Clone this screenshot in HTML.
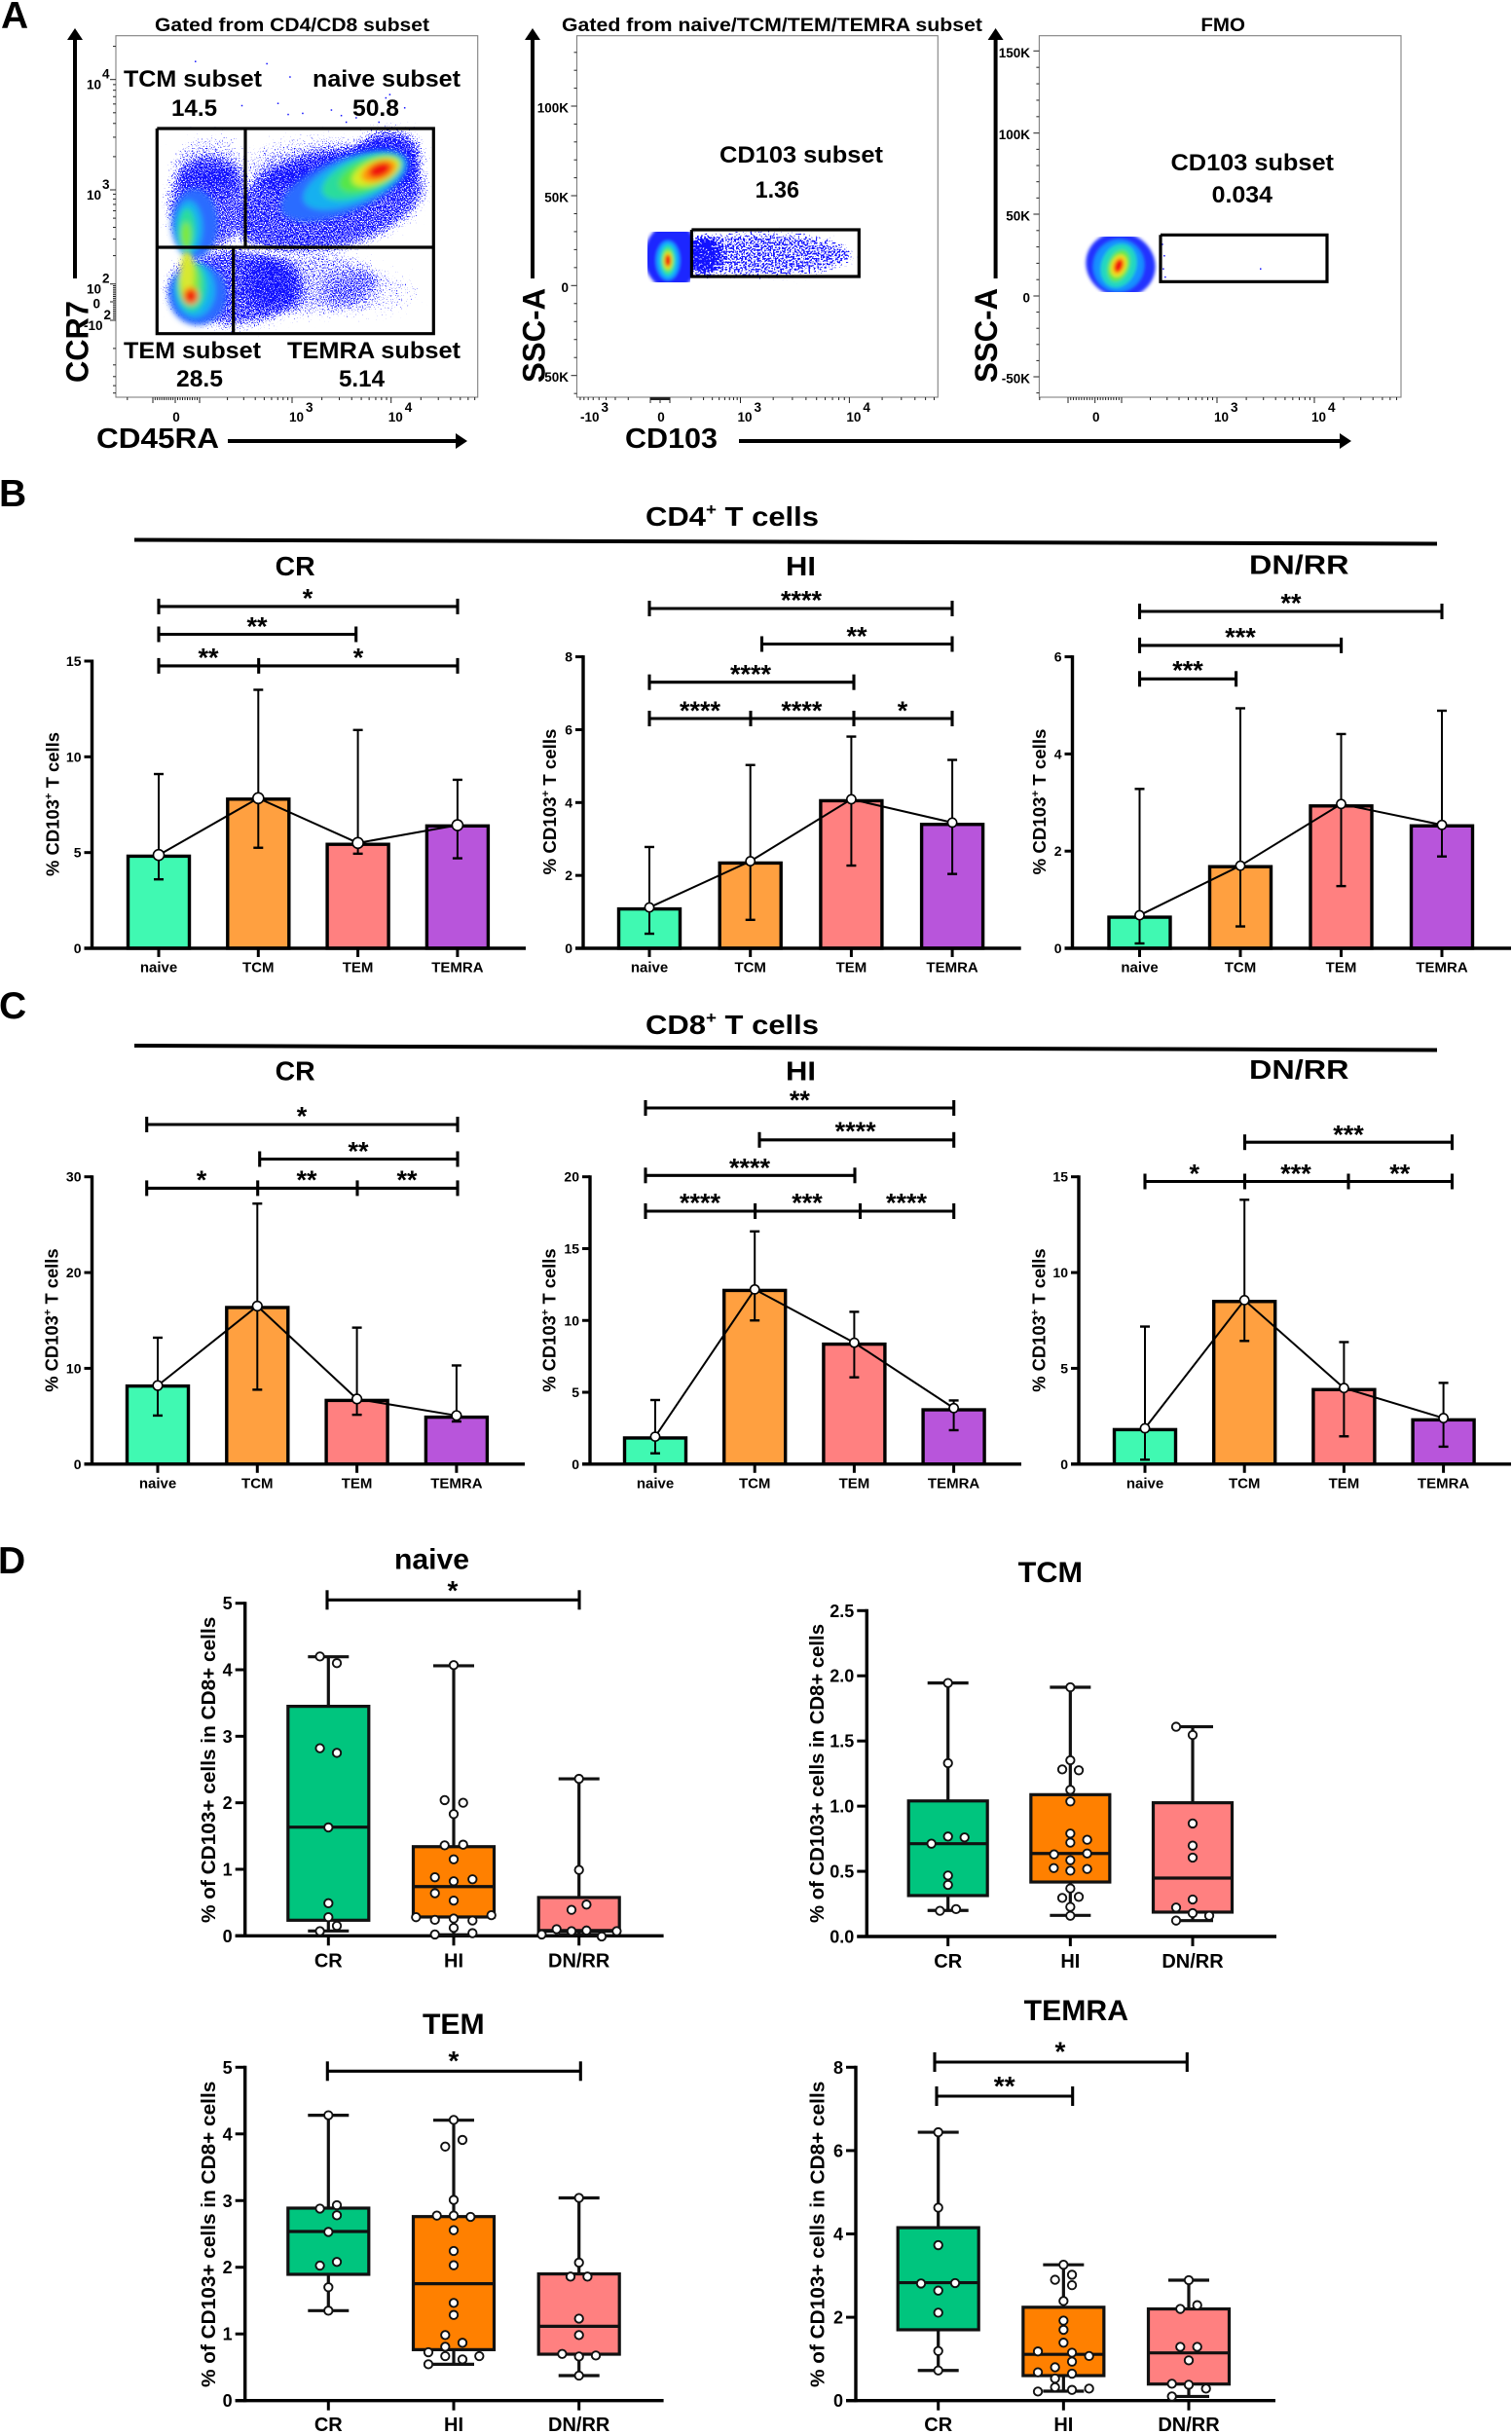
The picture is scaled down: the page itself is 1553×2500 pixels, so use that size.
<!DOCTYPE html>
<html lang="en">
<head>
<meta charset="utf-8">
<title>CD103 expression in T cell subsets</title>
<style>
html,body{margin:0;padding:0;background:#fff;}
svg{display:block;}
text{font-family:"Liberation Sans",Arial,sans-serif;font-weight:bold;fill:#000;}
</style>
</head>
<body>
<svg id="figure" xmlns="http://www.w3.org/2000/svg" width="1553" height="2500" viewBox="0 0 1553 2500">
<defs>
  <filter id="stipple" x="-30%" y="-30%" width="160%" height="160%" color-interpolation-filters="sRGB">
    <feGaussianBlur in="SourceAlpha" stdDeviation="7" result="b"/>
    <feTurbulence type="fractalNoise" baseFrequency="0.8" numOctaves="1" seed="7" result="n"/>
    <feColorMatrix in="n" type="matrix" values="0 0 0 0 0  0 0 0 0 0  0 0 0 0 0  1.8 0 0 0 -0.4" result="na"/>
    <feComposite in="b" in2="na" operator="arithmetic" k1="0" k2="1" k3="1" k4="-1" result="sum"/>
    <feComponentTransfer in="sum" result="mask"><feFuncA type="linear" slope="8"/></feComponentTransfer>
    <feFlood flood-color="#1212ff" result="c"/>
    <feComposite in="c" in2="mask" operator="in"/>
  </filter>
  <filter id="stippleFine" x="-30%" y="-30%" width="160%" height="160%" color-interpolation-filters="sRGB">
    <feGaussianBlur in="SourceAlpha" stdDeviation="4" result="b"/>
    <feTurbulence type="fractalNoise" baseFrequency="0.55" numOctaves="1" seed="11" result="n"/>
    <feColorMatrix in="n" type="matrix" values="0 0 0 0 0  0 0 0 0 0  0 0 0 0 0  1.8 0 0 0 -0.4" result="na"/>
    <feComposite in="b" in2="na" operator="arithmetic" k1="0" k2="1" k3="1" k4="-1" result="sum"/>
    <feComponentTransfer in="sum" result="mask"><feFuncA type="linear" slope="8"/></feComponentTransfer>
    <feFlood flood-color="#1212ff" result="c"/>
    <feComposite in="c" in2="mask" operator="in"/>
  </filter>
  <filter id="cloudBlur" x="-30%" y="-30%" width="160%" height="160%"><feGaussianBlur stdDeviation="3"/></filter>
  <filter id="cloudBlurSmall" x="-30%" y="-30%" width="160%" height="160%"><feGaussianBlur stdDeviation="1.6"/></filter>
  <clipPath id="clipSubset"><rect x="665" y="238" width="44" height="52"/></clipPath>
  <clipPath id="clipFmo"><rect x="1100" y="243" width="92" height="57"/></clipPath>
  <clipPath id="clipGated"><rect x="120" y="38" width="370" height="304"/></clipPath>
</defs>
<rect x="0" y="0" width="1553" height="2500" fill="#fff"/>

<text x="1" y="29" font-size="39">A</text>
<text x="-1" y="520" font-size="39">B</text>
<text x="-1" y="1046" font-size="39">C</text>
<text x="-2" y="1616" font-size="39">D</text>

<g id="flow-layer"></g>

<g>
  <text x="159" y="32" font-size="19" textLength="282" lengthAdjust="spacingAndGlyphs">Gated from CD4/CD8 subset</text>
  <text x="127" y="89" font-size="24.5" textLength="142" lengthAdjust="spacingAndGlyphs">TCM subset</text>
  <text x="176" y="119" font-size="24.5" textLength="47" lengthAdjust="spacingAndGlyphs">14.5</text>
  <text x="321" y="89" font-size="24.5" textLength="152" lengthAdjust="spacingAndGlyphs">naive subset</text>
  <text x="362" y="119" font-size="24.5" textLength="48" lengthAdjust="spacingAndGlyphs">50.8</text>
  <text x="127" y="368" font-size="24.5" textLength="141" lengthAdjust="spacingAndGlyphs">TEM subset</text>
  <text x="181" y="397" font-size="24.5" textLength="48" lengthAdjust="spacingAndGlyphs">28.5</text>
  <text x="295" y="368" font-size="24.5" textLength="178" lengthAdjust="spacingAndGlyphs">TEMRA subset</text>
  <text x="348" y="397" font-size="24.5" textLength="47" lengthAdjust="spacingAndGlyphs">5.14</text>
  <text x="577" y="32" font-size="19" textLength="432" lengthAdjust="spacingAndGlyphs">Gated from naive/TCM/TEM/TEMRA subset</text>
  <text x="739" y="167" font-size="24.5" textLength="168" lengthAdjust="spacingAndGlyphs">CD103 subset</text>
  <text x="775.6" y="203" font-size="24.5" textLength="45.4" lengthAdjust="spacingAndGlyphs">1.36</text>
  <text x="1233.4" y="32" font-size="19" textLength="45.6" lengthAdjust="spacingAndGlyphs">FMO</text>
  <text x="1202.5" y="175" font-size="24.5" textLength="167.5" lengthAdjust="spacingAndGlyphs">CD103 subset</text>
  <text x="1244.6" y="208" font-size="24.5" textLength="62.4" lengthAdjust="spacingAndGlyphs">0.034</text>

  <text x="99" y="460" font-size="29" textLength="126" lengthAdjust="spacingAndGlyphs">CD45RA</text>
  <text x="642" y="460" font-size="29" textLength="95" lengthAdjust="spacingAndGlyphs">CD103</text>
  <text transform="translate(90.7,393) rotate(-90)" font-size="32" textLength="84" lengthAdjust="spacingAndGlyphs">CCR7</text>
  <text transform="translate(559.5,393) rotate(-90)" font-size="32" textLength="97" lengthAdjust="spacingAndGlyphs">SSC-A</text>
  <text transform="translate(1024,393) rotate(-90)" font-size="32" textLength="97" lengthAdjust="spacingAndGlyphs">SSC-A</text>

  <g><line x1="77" y1="286" x2="77" y2="38" stroke="#000" stroke-width="4"/><polygon points="77,29 69,41 85,41" fill="#000"/></g>
  <g><line x1="547" y1="286" x2="547" y2="38" stroke="#000" stroke-width="4"/><polygon points="547,29 539,41 555,41" fill="#000"/></g>
  <g><line x1="1022.6" y1="286" x2="1022.6" y2="38" stroke="#000" stroke-width="4"/><polygon points="1022.6,29 1014.6,41 1030.6,41" fill="#000"/></g>
  <g><line x1="234" y1="453" x2="472" y2="453" stroke="#000" stroke-width="4"/><polygon points="480,453 468,445 468,461" fill="#000"/></g>
  <g><line x1="759" y1="453" x2="1380" y2="453" stroke="#000" stroke-width="4"/><polygon points="1388,453 1376,445 1376,461" fill="#000"/></g>
</g>

<g>
  <text x="663" y="540" font-size="28" textLength="178" lengthAdjust="spacingAndGlyphs">CD4<tspan font-size="17" dy="-11">+</tspan><tspan dy="11"> T cells</tspan></text>
  <line x1="138" y1="554.5" x2="1476" y2="558.5" stroke="#000" stroke-width="4"/>
  <text x="282.6" y="591" font-size="28" textLength="41" lengthAdjust="spacingAndGlyphs">CR</text>
  <text x="807" y="591" font-size="28" textLength="31" lengthAdjust="spacingAndGlyphs">HI</text>
  <text x="1283" y="589.5" font-size="28" textLength="102.5" lengthAdjust="spacingAndGlyphs">DN/RR</text>
</g>
<g>
  <text x="663" y="1062" font-size="28" textLength="178" lengthAdjust="spacingAndGlyphs">CD8<tspan font-size="17" dy="-11">+</tspan><tspan dy="11"> T cells</tspan></text>
  <line x1="138" y1="1074" x2="1476" y2="1078.5" stroke="#000" stroke-width="4"/>
  <text x="282.6" y="1109.5" font-size="28" textLength="41" lengthAdjust="spacingAndGlyphs">CR</text>
  <text x="807" y="1109.5" font-size="28" textLength="31" lengthAdjust="spacingAndGlyphs">HI</text>
  <text x="1283" y="1108" font-size="28" textLength="102.5" lengthAdjust="spacingAndGlyphs">DN/RR</text>
</g>
<g>
  <text x="405" y="1611.7" font-size="30" textLength="77" lengthAdjust="spacingAndGlyphs">naive</text>
  <text x="1045.7" y="1625" font-size="30" textLength="66.3" lengthAdjust="spacingAndGlyphs">TCM</text>
  <text x="434" y="2089" font-size="30" textLength="63.7" lengthAdjust="spacingAndGlyphs">TEM</text>
  <text x="1051.7" y="2075" font-size="30" textLength="107.3" lengthAdjust="spacingAndGlyphs">TEMRA</text>
</g>
</svg>

<script>
/* ---------- Bar chart data (panels B and C) ---------- */
const barCategories = ['naive', 'TCM', 'TEM', 'TEMRA'];

const cd4CrTicks = [0, 5, 10, 15];
const cd4CrMeans = [4.81, 7.79, 5.43, 6.39];
const cd4CrUpper = [9.1, 13.5, 11.4, 8.8];
const cd4CrLower = [3.6, 5.25, 4.94, 4.7];
const cd4CrMarkers = [4.87, 7.84, 5.5, 6.43];

const cd4HiTicks = [0, 2, 4, 6, 8];
const cd4HiMeans = [1.08, 2.34, 4.05, 3.4];
const cd4HiUpper = [2.78, 5.03, 5.81, 5.17];
const cd4HiLower = [0.4, 0.78, 2.27, 2.04];
const cd4HiMarkers = [1.12, 2.39, 4.09, 3.45];

const cd4DnTicks = [0, 2, 4, 6];
const cd4DnMeans = [0.64, 1.68, 2.93, 2.52];
const cd4DnUpper = [3.28, 4.94, 4.41, 4.89];
const cd4DnLower = [0.1, 0.45, 1.28, 1.89];
const cd4DnMarkers = [0.68, 1.7, 2.97, 2.54];

const cd8CrTicks = [0, 10, 20, 30];
const cd8CrMeans = [8.15, 16.35, 6.65, 4.9];
const cd8CrUpper = [13.2, 27.2, 14.25, 10.3];
const cd8CrLower = [5.07, 7.77, 5.15, 4.45];
const cd8CrMarkers = [8.2, 16.5, 6.8, 5.07];

const cd8HiTicks = [0, 5, 10, 15, 20];
const cd8HiMeans = [1.82, 12.09, 8.35, 3.78];
const cd8HiUpper = [4.46, 16.2, 10.6, 4.43];
const cd8HiLower = [0.75, 10, 6.04, 2.36];
const cd8HiMarkers = [1.91, 12.16, 8.45, 3.9];

const cd8DnTicks = [0, 5, 10, 15];
const cd8DnMeans = [1.8, 8.49, 3.89, 2.31];
const cd8DnUpper = [7.18, 13.8, 6.37, 4.24];
const cd8DnLower = [0.23, 6.43, 1.45, 0.91];
const cd8DnMarkers = [1.87, 8.56, 3.97, 2.4];

/* ---------- Box plot data (panel D): whisker low, Q1, median, Q3, whisker high ---------- */
const boxCategories = ['CR', 'HI', 'DN/RR'];

const naiveTicks = [0, 1, 2, 3, 4, 5];
const naiveTickLabels = ['0', '1', '2', '3', '4', '5'];
const naiveCrStats = [0.073, 0.234, 1.634, 3.45, 4.195];
const naiveHiStats = [0.015, 0.283, 0.74, 1.34, 4.06];
const naiveDnStats = [0.02, 0.07, 0.08, 0.576, 2.36];
const naiveCrPoints = [4.2, 4.1, 2.82, 2.75, 1.63, 0.49, 0.28, 0.15, 0.07];
const naiveHiPoints = [4.07, 2.04, 2.0, 1.83, 1.36, 1.37, 1.15, 0.88, 0.82, 0.85, 0.64, 0.53, 0.28, 0.24, 0.26, 0.23, 0.31, 0.12, 0.02, 0.04];
const naiveDnPoints = [2.36, 0.99, 0.47, 0.39, 0.1, 0.02, 0.07, 0.08, -0.01, 0.07];

const tcmTicks = [0, 0.5, 1, 1.5, 2, 2.5];
const tcmTickLabels = ['0.0', '0.5', '1.0', '1.5', '2.0', '2.5'];
const tcmCrStats = [0.2, 0.314, 0.712, 1.04, 1.945];
const tcmHiStats = [0.162, 0.418, 0.637, 1.088, 1.912];
const tcmDnStats = [0.122, 0.187, 0.448, 1.026, 1.609];
const tcmCrPoints = [1.945, 1.33, 0.767, 0.76, 0.712, 0.468, 0.396, 0.197, 0.21];
const tcmHiPoints = [1.912, 1.352, 1.282, 1.275, 1.125, 1.036, 0.79, 0.72, 0.742, 0.63, 0.637, 0.585, 0.525, 0.505, 0.518, 0.369, 0.296, 0.304, 0.227, 0.159];
const tcmDnPoints = [1.609, 1.546, 0.867, 0.697, 0.605, 0.284, 0.222, 0.179, 0.159, 0.122];

const temTicks = [0, 1, 2, 3, 4, 5];
const temTickLabels = ['0', '1', '2', '3', '4', '5'];
const temCrStats = [1.349, 1.894, 2.537, 2.887, 4.28];
const temHiStats = [0.545, 0.764, 1.753, 2.76, 4.206];
const temDnStats = [0.375, 0.696, 1.115, 1.9, 3.04];
const temCrPoints = [4.28, 2.93, 2.88, 2.78, 2.53, 2.08, 2.025, 1.7, 1.349];
const temHiPoints = [4.21, 3.91, 3.81, 3.01, 2.775, 2.775, 2.756, 2.556, 2.244, 2.03, 1.465, 1.285, 0.983, 0.867, 0.808, 0.725, 0.667, 0.618, 0.667, 0.545];
const temDnPoints = [3.04, 2.07, 1.86, 1.86, 1.23, 0.983, 0.7, 0.662, 0.677, 0.375];

const temraTicks = [0, 2, 4, 6, 8];
const temraTickLabels = ['0', '2', '4', '6', '8'];
const temraCrStats = [0.724, 1.7, 2.83, 4.15, 6.44];
const temraHiStats = [0.226, 0.6, 1.11, 2.24, 3.26];
const temraDnStats = [0.1, 0.397, 1.145, 2.2, 2.89];
const temraCrPoints = [6.44, 4.63, 3.73, 2.81, 2.82, 2.64, 2.11, 1.19, 0.724];
const temraHiPoints = [3.26, 3.02, 2.9, 2.77, 2.39, 1.92, 1.7, 1.39, 1.18, 1.15, 1.07, 0.935, 0.8, 0.68, 0.646, 0.53, 0.32, 0.288, 0.257, 0.218];
const temraDnPoints = [2.89, 2.29, 2.2, 1.29, 1.29, 0.966, 0.405, 0.38, 0.288, 0.1];

/* ---------- Flow cytometry data: population centres and stray events in axis units ---------- */
const gatedStrayX = [1.6, 2.72, 2.97, 2.45, 2.84, 3.1, 2.95, 3.39, 3.49, 3.64, 3.71, 3.94, 3.98, 4.13, 3.87, 3.54, 1.2, 2.16];
const gatedStrayY = [4.17, 4.15, 4.03, 3.77, 3.79, 3.7, 3.69, 3.73, 3.68, 3.66, 3.73, 3.84, 3.87, 3.75, 3.62, 3.62, 3.57, 3.57];
const gatedNaiveCentre = [3.885, 3.18];
const gatedTcmCentre = [0.96, 2.66];
const gatedTemCentre = [1.36, 0.66];
const subsetCentre = [1.6, 14];
const fmoCentre = [1.78, 18.5];
const fmoStrayX = [2.42, 2.44, 2.43, 2.45, 3.44];
const fmoStrayY = [32, 25, 17, 12, 17];

/* ---------- Layout and style (not data) ---------- */
const barColors = ['#40f9b2', '#ffa040', '#ff8080', '#b855db'];
const boxColors = ['#00c57e', '#ff8000', '#ff8080'];
const boxJitter = {
  naive: [[-8.7, 8.7, -8.7, 8.7, 0, 0, 0, 8.7, -8.7],
          [0, -9.3, 9.7, 0, -9.3, 9.7, 0, -19.3, 0, 19.3, -19.3, 0, -38.7, -19.3, 0, 19.3, 38.7, 0, -19.3, 19.3],
          [0, 0, 7.7, -7.7, -23, -38.3, -7.7, 7.7, 23.3, 38.7]],
  tcm: [[0, 0, 0, 17, -17, 0, 0, -8.3, 8.3],
        [0, 0, -8.3, 8.7, 0, 0, 0, 0, 17.3, -16.7, 17.3, 0, -17, 0, 17.3, 0, -8.3, 8.7, 0, 0],
        [-17, 0, 0, 0, 0, 0, -17, 0, 17, -17]],
  tem: [[0, 8.7, -8.7, 8.7, 0, 8.7, -8.7, 0, 0],
        [0, 9, -8.7, 0, -17.3, 0, 17.3, 0, 0, 0, 0, 0, -8.7, 9, -8.7, -26, -8.7, 9, 26.3, -26],
        [0, 0, -8.7, 8.7, 0, 0, -17.3, 0, 17.3, 0]],
  temra: [[0, 0, 0, -17.7, 17.3, 0, 0, 0, 0],
          [0, 8.7, -8.7, 8.7, 0, 0, 0, 0, -26.3, 8.7, 26.3, 8.7, -8.7, -26.3, 8.7, -8.7, -8.7, 26.3, 8.7, -26.3],
          [0, 8.7, -8.7, -8.7, 8.7, 0, -17.3, 0, 17.7, -17.3]]
};

const svg = document.getElementById('figure');
const NS = 'http://www.w3.org/2000/svg';

function mk(tag, attrs, parent) {
  const el = document.createElementNS(NS, tag);
  for (const k in attrs) el.setAttribute(k, attrs[k]);
  parent.appendChild(el);
  return el;
}
function label(parent, str, x, y, size, anchor) {
  const el = mk('text', {x: x, y: y, 'font-size': size, 'text-anchor': anchor || 'start'}, parent);
  el.textContent = str;
  return el;
}

/* Significance brackets: annotation layout [y, x1, x2, [mid ticks]] and stars [x, centre y, text] */
function drawBrackets(parent, brackets, stars, half, starSize) {
  const g = mk('g', {}, parent);
  
  
  brackets.forEach(function (b) {
    const br = mk('g', {stroke: '#000', 'stroke-width': 3.1, fill: 'none'}, g);
    
    
    mk('line', {x1: b[1], x2: b[2], y1: b[0], y2: b[0]}, br);
    [b[1], b[2]].concat(b[3] || []).forEach(function (tx) {
      mk('line', {x1: tx, x2: tx, y1: b[0] - half, y2: b[0] + half}, br);
    });
  });
  stars.forEach(function (s) {
    const t = label(g, s[2], s[0], s[1] + starSize * 0.5, starSize, 'middle');
    
    
  });
}

function drawBarPanel(p) {
  const g = mk('g', {}, svg);
  
  
  const yScale = function (v) { return p.y0 - v / p.ticks[p.ticks.length - 1] * (p.y0 - p.yTop); };
  const xScale = function (i) { return p.cat0 + i * p.step; };

  barCategories.forEach(function (cat, i) {
    const cx = xScale(i);
    const top = yScale(p.means[i]);
    const bar = mk('rect', {x: cx - 31.5, y: top, width: 63, height: p.y0 - top, fill: barColors[i], stroke: '#000', 'stroke-width': 3.4}, g);
    
    
  });

  const axes = mk('g', {stroke: '#000', fill: 'none'}, g);
  
  
  mk('line', {x1: p.axisX, x2: p.axisX, y1: p.yTop - 1.5, y2: p.y0 + 1.5, 'stroke-width': 3.4}, axes);
  mk('line', {x1: p.axisX - 8, x2: p.axisRight, y1: p.y0, y2: p.y0, 'stroke-width': 3.4}, axes);

  p.ticks.forEach(function (t) {
    const ty = yScale(t);
    const tick = mk('line', {x1: p.axisX - 8, x2: p.axisX, y1: ty, y2: ty, stroke: '#000', 'stroke-width': 3}, g);
    
    
    const lab = label(g, String(t), p.axisX - 11, ty + 5, 14, 'end');
    
    
  });

  barCategories.forEach(function (cat, i) {
    const cx = xScale(i);
    const tick = mk('line', {x1: cx, x2: cx, y1: p.y0, y2: p.y0 + 9, stroke: '#000', 'stroke-width': 3}, g);
    
    
    const lab = label(g, cat, cx, p.y0 + 24.5, 15, 'middle');
    
    
    const err = mk('g', {stroke: '#000', fill: 'none'}, g);
    
    
    mk('line', {x1: cx, x2: cx, y1: yScale(p.upper[i]), y2: yScale(p.lower[i]), 'stroke-width': 2}, err);
    mk('line', {x1: cx - 5, x2: cx + 5, y1: yScale(p.upper[i]), y2: yScale(p.upper[i]), 'stroke-width': 2.4}, err);
    mk('line', {x1: cx - 5, x2: cx + 5, y1: yScale(p.lower[i]), y2: yScale(p.lower[i]), 'stroke-width': 2.4}, err);
  });

  const pts = p.markers.map(function (v, i) { return xScale(i) + ',' + yScale(v); }).join(' ');
  const trend = mk('polyline', {points: pts, fill: 'none', stroke: '#000', 'stroke-width': 2}, g);
  
  
  p.markers.forEach(function (v, i) {
    const c = mk('circle', {cx: xScale(i), cy: yScale(v), r: p.markerR, fill: '#fff', stroke: '#000', 'stroke-width': 1.6}, g);
    
    
  });

  const ytitle = mk('text', {transform: 'translate(' + p.titleX + ',' + (p.titleBottom + p.titleTop) / 2 + ') rotate(-90)', 'font-size': 18, 'text-anchor': 'middle', textLength: p.titleBottom - p.titleTop, lengthAdjust: 'spacingAndGlyphs'}, g);
  
  
  ytitle.appendChild(document.createTextNode('% CD103'));
  const sup = mk('tspan', {dy: -7, 'font-size': 11}, ytitle);
  sup.textContent = '+';
  const rest = mk('tspan', {dy: 7}, ytitle);
  rest.textContent = ' T cells';

  drawBrackets(g, p.brackets, p.stars, 8, 27);
}

function drawBoxPanel(p) {
  const g = mk('g', {}, svg);
  
  
  const yMax = p.ticks[p.ticks.length - 1];
  const yScale = function (v) { return p.y0 - v / yMax * (p.y0 - p.yTop); };
  const xScale = function (i) { return p.cat0 + i * p.step; };

  const axes = mk('g', {stroke: '#000', fill: 'none'}, g);
  
  
  mk('line', {x1: p.axisX, x2: p.axisX, y1: p.yTop - 1.5, y2: p.y0 + 1.5, 'stroke-width': 3.4}, axes);
  mk('line', {x1: p.axisX - 10, x2: p.axisRight, y1: p.y0, y2: p.y0, 'stroke-width': 3.4}, axes);

  p.ticks.forEach(function (t, i) {
    const ty = yScale(t);
    const tick = mk('line', {x1: p.axisX - 10, x2: p.axisX, y1: ty, y2: ty, stroke: '#000', 'stroke-width': 3}, g);
    
    
    const lab = label(g, p.tickLabels[i], p.axisX - 13, ty + 6.5, 18, 'end');
    
    
  });

  boxCategories.forEach(function (cat, i) {
    const cx = xScale(i);
    const s = p.stats[i];
    const tick = mk('line', {x1: cx, x2: cx, y1: p.y0, y2: p.y0 + 10, stroke: '#000', 'stroke-width': 3}, g);
    
    
    const lab = label(g, cat, cx, p.y0 + p.catDy, 20, 'middle');
    
    

    const wh = mk('g', {stroke: '#111', 'stroke-width': 3.2, fill: 'none'}, g);
    
    
    mk('line', {x1: cx, x2: cx, y1: yScale(s[4]), y2: yScale(s[0])}, wh);
    mk('line', {x1: cx - 21, x2: cx + 21, y1: yScale(s[4]), y2: yScale(s[4])}, wh);
    mk('line', {x1: cx - 21, x2: cx + 21, y1: yScale(s[0]), y2: yScale(s[0])}, wh);

    const box = mk('rect', {x: cx - p.boxHalf, y: yScale(s[3]), width: 2 * p.boxHalf, height: yScale(s[1]) - yScale(s[3]), fill: boxColors[i], stroke: '#111', 'stroke-width': 3.2}, g);
    
    
    const med = mk('line', {x1: cx - p.boxHalf, x2: cx + p.boxHalf, y1: yScale(s[2]), y2: yScale(s[2]), stroke: '#111', 'stroke-width': 3.2}, g);
    
    

    p.points[i].forEach(function (v, k) {
      const d = mk('circle', {cx: cx + p.jitter[i][k], cy: yScale(v), r: 4.2, fill: '#fff', stroke: '#111', 'stroke-width': 1.9}, g);
      
      
    });
  });

  const ytitle = mk('text', {transform: 'translate(' + p.titleX + ',' + (p.titleBottom + p.titleTop) / 2 + ') rotate(-90)', 'font-size': 20.5, 'text-anchor': 'middle', textLength: p.titleBottom - p.titleTop, lengthAdjust: 'spacingAndGlyphs'}, g);
  
  
  ytitle.textContent = '% of CD103+ cells in CD8+ cells';

  drawBrackets(g, p.brackets, p.stars, 10, 28);
}

/* Piecewise axis map used by the biexponential flow axes */
function piecewise(us, ps) {
  return function (u) {
    let i = 0;
    while (i < us.length - 2 && u > us[i + 1]) i++;
    return ps[i] + (u - us[i]) * (ps[i + 1] - ps[i]) / (us[i + 1] - us[i]);
  };
}

function drawFlowPlot(p) {
  const layer = document.getElementById('flow-layer');
  const g = mk('g', {}, layer);
  
  
  const sx = piecewise(p.xU, p.xP);
  const sy = piecewise(p.yU, p.yP);

  const dens = mk('g', {}, g);
  
  
  p.populations.forEach(function (pop) {
    const cx = sx(pop.centre[0]);
    const cy = sy(pop.centre[1]);
    if (pop.stipple) {
      const st = mk('g', {filter: 'url(#' + p.stippleFilter + ')'}, dens);
      pop.stipple.forEach(function (e) {
        mk('ellipse', {cx: cx + e[2], cy: cy + e[3], rx: e[0], ry: e[1], 'fill-opacity': e[4], fill: '#000', transform: 'rotate(' + (e[5] || 0) + ' ' + (cx + e[2]) + ' ' + (cy + e[3]) + ')'}, st);
      });
    }
  });
  const coreGroup = mk('g', p.clip ? {'clip-path': 'url(#' + p.clip + ')'} : {}, dens);
  p.populations.forEach(function (pop) {
    const cx = sx(pop.centre[0]);
    const cy = sy(pop.centre[1]);
    const lg = mk('g', {filter: 'url(#' + p.blurFilter + ')'}, coreGroup);
    (pop.layers || []).forEach(function (l) {
      mk('ellipse', {cx: cx + l[2], cy: cy + l[3], rx: l[0], ry: l[1], fill: l[4], transform: 'rotate(' + (pop.rot || 0) + ' ' + (cx + l[2]) + ' ' + (cy + l[3]) + ')'}, lg);
    });
  });
  p.strayX.forEach(function (u, i) {
    const dot = mk('rect', {x: sx(u), y: sy(p.strayY[i]), width: 1.5, height: 1.5, fill: '#1212ff'}, g);
    
    
  });

  const frame = mk('rect', {x: p.fx, y: p.fy, width: p.fw, height: p.fh, fill: 'none', stroke: '#808080', 'stroke-width': 1.1}, g);
  
  

  const ticks = mk('g', {stroke: '#222', 'stroke-width': 1}, g);
  
  
  const bottom = p.fy + p.fh;
  p.xTicks().forEach(function (t) {
    const px = sx(t[0]);
    if (px < p.fx || px > p.fx + p.fw) return;
    mk('line', {x1: px, x2: px, y1: bottom, y2: bottom + t[1]}, ticks);
  });
  p.yTicks().forEach(function (t) {
    const py = sy(t[0]);
    if (py < p.fy || py > bottom) return;
    mk('line', {x1: p.fx - t[1], x2: p.fx, y1: py, y2: py}, ticks);
  });

  p.xLabels.forEach(function (l) {
    const px = sx(l[0]);
    const t = label(g, l[1], px + (l[2] ? (l[0] < 0 ? 3.5 : -3) : 1), bottom + 25, 13.5, l[2] ? 'start' : 'middle');
    
    
    if (l[2]) {
      const s = mk('tspan', {dy: -10, dx: 2}, t);
      s.textContent = l[2];
    }
  });
  p.yLabels.forEach(function (l) {
    const py = sy(l[0]);
    const t = label(g, l[1], p.yLabelX, py + (l[2] ? 10 : 6.5), 13.5, l[2] ? 'start' : 'end');
    if (l[2] && l[1].charAt(0) === '-') t.setAttribute('x', p.yLabelX - 3);
    if (!l[2]) t.setAttribute('x', p.yLabelEnd);
    
    
    if (l[2]) {
      const s = mk('tspan', {dy: -11, dx: 1}, t);
      s.textContent = l[2];
    }
  });

  p.gates.forEach(function (gt) {
    const r = mk('polyline', {points: gt, fill: 'none', stroke: '#000', 'stroke-width': 3.2}, g);
    
    
  });
}

function biexTicks(decades, negative) {
  return function () {
    const out = [];
    decades.forEach(function (d) {
      for (let m = 1; m <= 9; m++) out.push([d + Math.log10(m), m === 1 ? 6 : 3]);
    });
    if (negative) {
      for (let m = 1; m <= 9; m++) out.push([-2 - Math.log10(m), m === 1 ? 6 : 3]);
    }
    for (let v = -90; v <= 90; v += 10) out.push([v / 50, v === 0 ? 6 : 3]);
    return out;
  };
}
function linearTicks() {
  const out = [];
  for (let v = -60; v <= 160; v += 10) out.push([v, v % 50 === 0 ? 6 : 3]);
  return out;
}

drawFlowPlot({
  name: 'ccr7-cd45ra',
  fx: 119, fy: 36.7, fw: 371.7, fh: 371.3,
  xU: [-3, -2, 0, 2, 3, 4], xP: [70, 157, 180, 205, 300, 401.7],
  yU: [-3, -2, 0, 2, 3, 4], yP: [425, 329, 310, 291.7, 195, 81.7],
  stippleFilter: 'stipple', blurFilter: 'cloudBlur',
  xTicks: biexTicks([2, 3, 4], true), yTicks: biexTicks([2, 3, 4], true),
  xLabels: [[0, '0'], [3, '10', '3'], [4, '10', '4']],
  yLabels: [[4, '10', '4'], [3, '10', '3'], [2, '10', '2'], [0, '0'], [-2, '-10', '2']],
  yLabelX: 89, yLabelEnd: 103,
  strayX: gatedStrayX, strayY: gatedStrayY,
  gates: ['161.3,132 445.3,132 445.3,342.7 161.3,342.7 161.3,132', '161.3,254 445.3,254', '252,132 252,254', '239.7,254 239.7,342.7'],
  populations: [
    {centre: gatedNaiveCentre, rot: -22,
     stipple: [[105, 52, -55, 33, 0.66, -12], [35, 28, 10, -15, 0.72], [80, 30, -60, -5, 0.34]],
     layers: [[70, 28, -36, 16, '#2a6cff'], [56, 23, -26, 11, '#19b0f0'], [44, 19, -18, 7, '#2bdc9c'], [34, 15, -10, 4, '#55e64a'], [26, 12, -4, 2, '#d8ee20'], [19, 10, -1, 1, '#ff9a10'], [12, 7, 0, 0, '#f01010']]},
    {centre: gatedTcmCentre,
     stipple: [[45, 48, 23, -18, 0.62], [40, 30, 23, -58, 0.36]],
     layers: [[24, 36, 8, 2, '#2a6cff'], [14, 28, 2, 6, '#19b0f0'], [9, 22, 0, 8, '#2bdc9c'], [5, 14, -1, 14, '#7fe83a']]},
    {centre: gatedTemCentre,
     stipple: [[70, 42, 43, -9, 0.64], [70, 35, 123, -14, 0.42], [50, 25, 183, -4, 0.26]],
     layers: [[30, 32, 6, -2, '#2a6cff'], [21, 28, 3, -6, '#19b0f0'], [15, 26, 0, -10, '#2bdc9c'], [11, 22, -3, -14, '#7fe83a'], [7, 24, -5, -22, '#d8e830'], [8, 9, -1, 0, '#ff7a10'], [5, 6, -1, 0, '#f01010']]}
  ]
});

drawFlowPlot({
  name: 'ssc-cd103',
  fx: 592.5, fy: 36.7, fw: 370.8, fh: 371.3,
  xU: [-3, -2, 0, 2, 3, 4], xP: [592.5, 668, 678, 688, 760.5, 872.4],
  yU: [-50, 0, 50, 100], yP: [385.7, 293.3, 201, 109],
  clip: 'clipSubset', stippleFilter: 'stippleFine', blurFilter: 'cloudBlurSmall',
  xTicks: biexTicks([2, 3, 4], true), yTicks: linearTicks,
  xLabels: [[-3, '-10', '3'], [0, '0'], [3, '10', '3'], [4, '10', '4']],
  yLabels: [[100, '100K'], [50, '50K'], [0, '0'], [-50, '-50K']],
  yLabelX: 584, yLabelEnd: 584,
  strayX: [], strayY: [],
  gates: ['710.4,236 882.3,236 882.3,284 710.4,284 710.4,236'],
  populations: [
    {centre: subsetCentre,
     stipple: [[95, 23, 95, -6, 0.54], [18, 22, 36, -5, 0.66]],
     layers: [[28, 34, 4, -4, '#1a28ff'], [12, 20, 0, 0, '#18a8ff'], [8, 16, 0, 0, '#22e0b0'], [6, 12, 0, 0, '#70e840'], [4.5, 9, 0, 0, '#e8e020'], [3, 6, 0, 0, '#f01010']]}
  ]
});

drawFlowPlot({
  name: 'ssc-cd103-fmo',
  fx: 1067.4, fy: 36.7, fw: 371.6, fh: 371.3,
  xU: [-3, -2, 0, 2, 3, 4], xP: [1000, 1097, 1124.7, 1152, 1250, 1350],
  yU: [-50, 0, 50, 100, 150], yP: [387, 304, 220, 136.7, 52.3],
  clip: 'clipFmo', stippleFilter: 'stippleFine', blurFilter: 'cloudBlurSmall',
  xTicks: biexTicks([2, 3, 4], true), yTicks: linearTicks,
  xLabels: [[0, '0'], [3, '10', '3'], [4, '10', '4']],
  yLabels: [[150, '150K'], [100, '100K'], [50, '50K'], [0, '0'], [-50, '-50K']],
  yLabelX: 1058, yLabelEnd: 1058,
  strayX: fmoStrayX, strayY: fmoStrayY,
  gates: ['1192,241.3 1363,241.3 1363,289.3 1192,289.3 1192,241.3'],
  populations: [
    {centre: fmoCentre, rot: 20,
     layers: [[36, 33, 2, -1, '#2030ff'], [26, 27, 0, 0, '#1590ff'], [18, 23, 0, 0, '#22d8c0'], [11, 17, 0, 0, '#60e850'], [8, 12, 0, 0, '#e8e020'], [5, 8, 0, 0, '#ff8010'], [3.5, 6, 0, 0, '#f01010']]}
  ]
});

drawBarPanel({
  name: 'cd4-cr', axisX: 94.5, axisRight: 540, y0: 974, yTop: 679, cat0: 163, step: 102.3, markerR: 5.5,
  ticks: cd4CrTicks, means: cd4CrMeans, upper: cd4CrUpper, lower: cd4CrLower, markers: cd4CrMarkers,
  titleX: 60.5, titleBottom: 900, titleTop: 752,
  brackets: [[622.9, 163, 470, []], [651.5, 163, 365.7, []], [683.9, 163, 470, [265.7]]],
  stars: [[316, 610, '*'], [264, 639, '**'], [214, 671, '**'], [368, 671, '*']]
});
drawBarPanel({
  name: 'cd4-hi', axisX: 599, axisRight: 1048.7, y0: 974, yTop: 674.6, cat0: 667, step: 103.7, markerR: 4.6,
  ticks: cd4HiTicks, means: cd4HiMeans, upper: cd4HiUpper, lower: cd4HiLower, markers: cd4HiMarkers,
  titleX: 571, titleBottom: 898.4, titleTop: 748.6,
  brackets: [[625, 667, 978, []], [661.5, 782.5, 978, []], [700.7, 667, 877, []], [738, 667, 978, [771, 877]]],
  stars: [[823, 612, '****'], [880, 649, '**'], [771, 688, '****'], [719, 725.5, '****'], [823.4, 725.5, '****'], [927, 725.5, '*']]
});
drawBarPanel({
  name: 'cd4-dnrr', axisX: 1101.5, axisRight: 1552, y0: 974, yTop: 674.6, cat0: 1170.5, step: 103.5, markerR: 4.6,
  ticks: cd4DnTicks, means: cd4DnMeans, upper: cd4DnUpper, lower: cd4DnLower, markers: cd4DnMarkers,
  titleX: 1074, titleBottom: 898.4, titleTop: 748.6,
  brackets: [[628, 1170.5, 1481, []], [662.9, 1170.5, 1377.6, []], [697.3, 1170.5, 1269.6, []]],
  stars: [[1326, 615, '**'], [1274, 650, '***'], [1220, 684, '***']]
});
drawBarPanel({
  name: 'cd8-cr', axisX: 94.5, axisRight: 539, y0: 1503.8, yTop: 1208.7, cat0: 162, step: 102.3, markerR: 4.8,
  ticks: cd8CrTicks, means: cd8CrMeans, upper: cd8CrUpper, lower: cd8CrLower, markers: cd8CrMarkers,
  titleX: 59.7, titleBottom: 1429.8, titleTop: 1282.4,
  brackets: [[1155, 150.7, 470, []], [1190.5, 266.7, 470, []], [1220.4, 150.7, 470, [264.7, 367]]],
  stars: [[310, 1142, '*'], [368, 1178, '**'], [207, 1207.7, '*'], [315, 1207.7, '**'], [418, 1207.7, '**']]
});
drawBarPanel({
  name: 'cd8-hi', axisX: 606, axisRight: 1049, y0: 1503.8, yTop: 1208.7, cat0: 673, step: 102.2, markerR: 4.6,
  ticks: cd8HiTicks, means: cd8HiMeans, upper: cd8HiUpper, lower: cd8HiLower, markers: cd8HiMarkers,
  titleX: 570.6, titleBottom: 1429.8, titleTop: 1282.4,
  brackets: [[1138, 663, 979.7, []], [1170.8, 780, 979.7, []], [1207.3, 663, 878, []], [1244, 663, 979.7, [775.6, 883.5]]],
  stars: [[821.4, 1125.4, '**'], [878.6, 1157.7, '****'], [770, 1195, '****'], [719, 1231, '****'], [829, 1231, '***'], [931, 1231, '****']]
});
drawBarPanel({
  name: 'cd8-dnrr', axisX: 1108, axisRight: 1552, y0: 1503.8, yTop: 1208.7, cat0: 1176, step: 102.2, markerR: 4.6,
  ticks: cd8DnTicks, means: cd8DnMeans, upper: cd8DnUpper, lower: cd8DnLower, markers: cd8DnMarkers,
  titleX: 1073.4, titleBottom: 1429.8, titleTop: 1282.4,
  brackets: [[1173.2, 1278.5, 1491.5, []], [1213.5, 1176, 1491.5, [1278.5, 1385]]],
  stars: [[1385, 1160.8, '***'], [1226.7, 1200.8, '*'], [1331, 1200.8, '***'], [1437.8, 1200.8, '**']]
});

drawBoxPanel({
  name: 'naive', axisX: 251.7, axisRight: 681.6, y0: 1988.3, yTop: 1646.7, cat0: 337.3, step: 128.7, boxHalf: 41.5, catDy: 32.4,
  ticks: naiveTicks, tickLabels: naiveTickLabels,
  stats: [naiveCrStats, naiveHiStats, naiveDnStats], points: [naiveCrPoints, naiveHiPoints, naiveDnPoints], jitter: boxJitter.naive,
  titleX: 221, titleBottom: 1975, titleTop: 1660.7,
  brackets: [[1643.3, 336, 595, []]], stars: [[465, 1629, '*']]
});
drawBoxPanel({
  name: 'tcm', axisX: 890.3, axisRight: 1311, y0: 1989, yTop: 1654.3, cat0: 973.7, step: 125.65, boxHalf: 40.5, catDy: 32,
  ticks: tcmTicks, tickLabels: tcmTickLabels,
  stats: [tcmCrStats, tcmHiStats, tcmDnStats], points: [tcmCrPoints, tcmHiPoints, tcmDnPoints], jitter: boxJitter.tcm,
  titleX: 846, titleBottom: 1975, titleTop: 1668,
  brackets: [], stars: []
});
drawBoxPanel({
  name: 'tem', axisX: 251.7, axisRight: 681.6, y0: 2465.7, yTop: 2123.3, cat0: 337.3, step: 128.7, boxHalf: 41.5, catDy: 31.3,
  ticks: temTicks, tickLabels: temTickLabels,
  stats: [temCrStats, temHiStats, temDnStats], points: [temCrPoints, temHiPoints, temDnPoints], jitter: boxJitter.tem,
  titleX: 221, titleBottom: 2452, titleTop: 2137.7,
  brackets: [[2127.3, 336.3, 596.3, []]], stars: [[466, 2112, '*']]
});
drawBoxPanel({
  name: 'temra', axisX: 879, axisRight: 1310, y0: 2465.7, yTop: 2123.3, cat0: 963.7, step: 128.65, boxHalf: 41.5, catDy: 31.3,
  ticks: temraTicks, tickLabels: temraTickLabels,
  stats: [temraCrStats, temraHiStats, temraDnStats], points: [temraCrPoints, temraHiPoints, temraDnPoints], jitter: boxJitter.temra,
  titleX: 846.7, titleBottom: 2452, titleTop: 2137.7,
  brackets: [[2118, 960, 1219.3, []], [2153, 962, 1101.7, []]], stars: [[1089, 2102.7, '*'], [1031.7, 2138, '**']]
});
</script>
</body>
</html>
